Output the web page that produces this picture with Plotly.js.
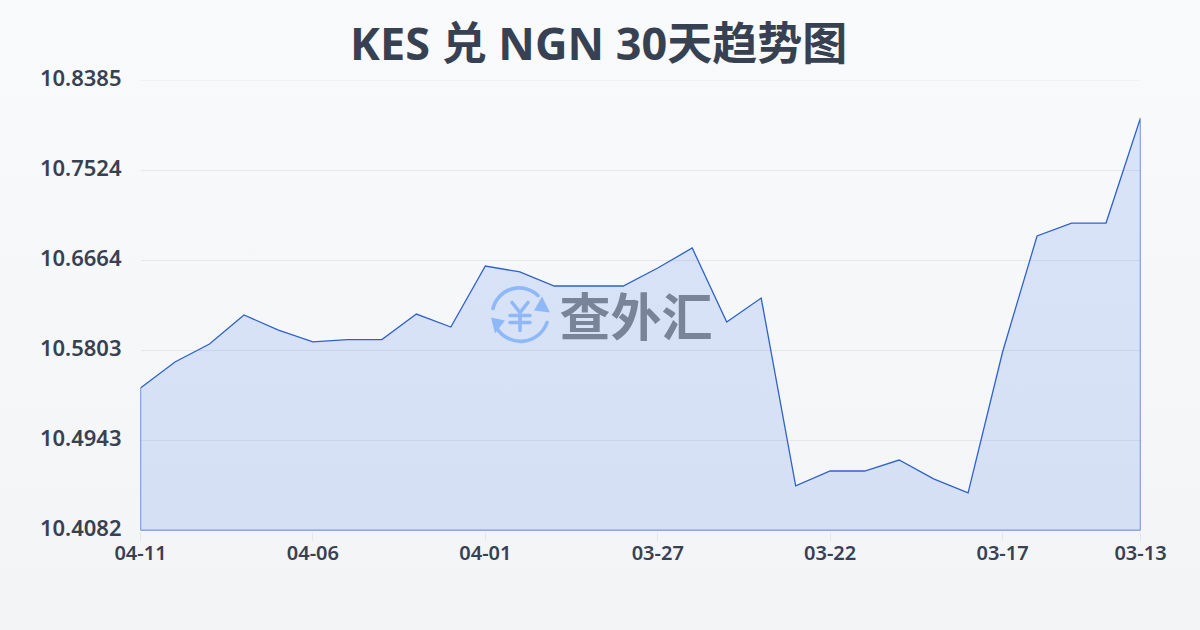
<!DOCTYPE html>
<html><head><meta charset="utf-8">
<script src="https://cdn.plot.ly/plotly-3.0.1.min.js"></script>
<style>
html,body{margin:0;padding:0;width:1200px;height:630px;overflow:hidden;background:linear-gradient(180deg,#f8fafc 0%,#f3f4f6 100%);}
#chart{width:1200px;height:630px;transform:translate(0.5px,0.5px);}
</style></head><body><div id="chart"></div>
<script>
const dates = ["04-11","04-10","04-09","04-08","04-07","04-06","04-05","04-04","04-03","04-02","04-01","03-31","03-30","03-29","03-28","03-27","03-26","03-25","03-24","03-23","03-22","03-21","03-20","03-19","03-18","03-17","03-16","03-15","03-14","03-13"];
const rates = [10.5445,10.5693,10.5865,10.6143,10.5999,10.5885,10.5908,10.5908,10.6152,10.6028,10.6611,10.6554,10.6420,10.6420,10.6420,10.6592,10.6783,10.6076,10.6305,10.4508,10.4651,10.4651,10.4756,10.4575,10.4441,10.5789,10.6898,10.7022,10.7022,10.8026];
const yTicks = [10.4082,10.4943,10.5803,10.6664,10.7524,10.8385];
const yTickLabels = ["10.4082","10.4943","10.5803","10.6664","10.7524","10.8385"];
const xTicks = ["04-11","04-06","04-01","03-27","03-22","03-17","03-13"];
const titleText = "KES 兑 NGN 30天趋势图";
const watermarkText = "查外汇";

const yBase = yTicks[0];
const yTop = yTicks[yTicks.length-1];
const font = '"Noto Sans","Noto Sans CJK SC",sans-serif';
const icon = `<svg xmlns="http://www.w3.org/2000/svg" width="60" height="60" viewBox="0 0 60 60">
<g fill="none" stroke="#8fb8f8" stroke-width="3.6" stroke-linecap="round" stroke-linejoin="round">
<path d="M3 23 A27 27 0 0 1 48 10"/><path d="M7 43 A28 28 0 0 0 57 37"/>
<path d="M22 17 L30 27 L38 17 M30 27 V45 M20 30 H40 M20 37 H40"/>
</g>
<path d="M52 11 L60 27 L44 25 Z M1 32 L15 35 L5 48 Z" fill="#8fb8f8"/>
</svg>`;

const trace = {
  type: "scatter", mode: "lines",
  x: dates.concat([dates[dates.length-1], dates[0], dates[0]]),
  y: rates.concat([yBase, yBase, rates[0]]),
  fill: "toself",
  fillcolor: "rgba(37,99,235,0.14)",
  line: {color: "#2f62c9", width: 1.3},
  cliponaxis: false,
  hoverinfo: "skip"
};
const layout = {
  width: 1200, height: 630,
  paper_bgcolor: "rgba(0,0,0,0)", plot_bgcolor: "rgba(0,0,0,0)",
  margin: {l:140, r:60, t:80, b:100, pad:0},
  showlegend: false,
  title: {text: titleText, x:0.4985, xanchor:"center", y:1-44/630, yref:"container", yanchor:"middle",
          font:{family:font, size:45, weight:700, color:"#374151"}},
  xaxis: {type:"category", categoryorder:"array", categoryarray:dates, range:[0,dates.length-1],
          tickmode:"array", tickvals:xTicks, ticktext:xTicks,
          ticks:"outside", ticklen:9, tickwidth:1, tickcolor:"#e5e7eb",
          showgrid:false, zeroline:false, showline:false, ticklabelstandoff:-5,
          tickfont:{family:font, size:20, weight:600, color:"#374151"}},
  yaxis: {range:[yBase, yTop],
          tickmode:"array", tickvals:yTicks, ticktext:yTickLabels,
          ticks:"", showgrid:true, gridcolor:"#e5e7eb", gridwidth:1,
          zeroline:false, showline:false, ticklabelstandoff:18, ticklabelshift:-2,
          tickfont:{family:font, size:22, weight:600, color:"#374151"}},
  shapes: [{type:"line", xref:"paper", yref:"y", x0:0, x1:1, y0:yTop, y1:yTop, layer:"below",
            line:{color:"#e5e7eb", width:1}}],
  annotations: [{text: watermarkText, xref:"paper", yref:"paper",
    x:(635-140)/1000, y:(530-313)/450, xanchor:"center", yanchor:"middle", showarrow:false,
    font:{family:'"Noto Sans CJK SC",sans-serif', size:51, weight:700, color:"rgba(90,100,120,0.75)"}}],
  images: [{source:"data:image/svg+xml;utf8,"+encodeURIComponent(icon), xref:"paper", yref:"paper",
    x:(519.5-140)/1000, y:(530-315)/450, sizex:60/1000, sizey:60/450, xanchor:"center", yanchor:"middle", layer:"above"}]
};
Plotly.newPlot("chart",[trace],layout,{displayModeBar:false,staticPlot:true});
</script></body></html>
